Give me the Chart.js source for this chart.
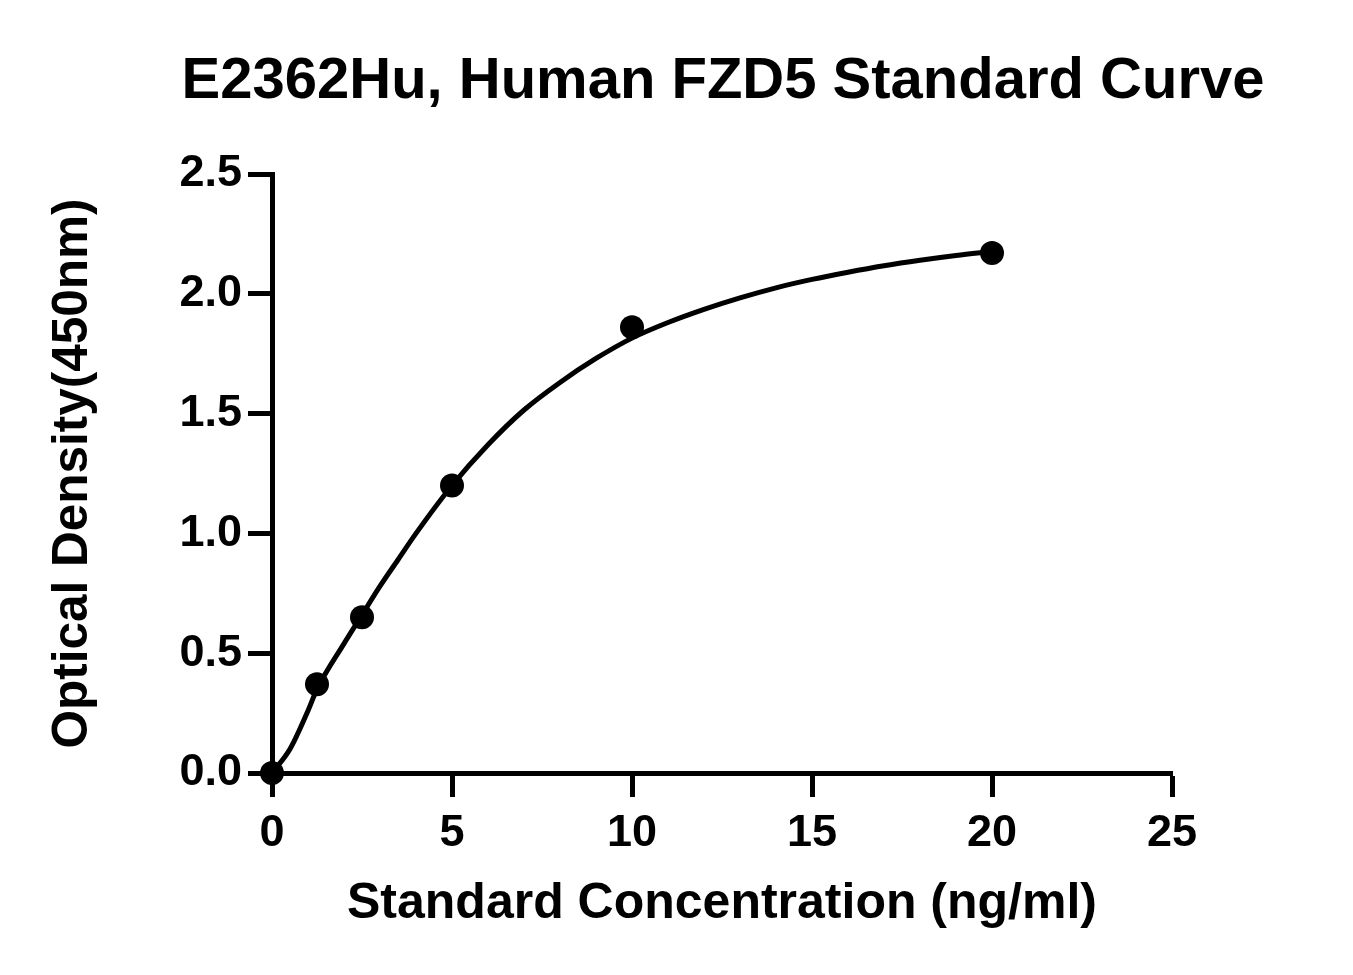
<!DOCTYPE html>
<html>
<head>
<meta charset="utf-8">
<script src="https://cdn.jsdelivr.net/npm/chart.js@4.4.0/dist/chart.umd.min.js"></script>
<style>
  html, body { margin: 0; padding: 0; background: #ffffff; }
  #wrap { width: 1353px; height: 975px; }
  canvas { display: block; }
</style>
</head>
<body>
<div id="wrap"><canvas id="c" width="1353" height="975" style="width:1353px;height:975px"></canvas></div>
<script>
// ---- data ----
const chartTitle = 'E2362Hu, Human FZD5 Standard Curve';
const xAxisTitle = 'Standard Concentration (ng/ml)';
const yAxisTitle = 'Optical Density(450nm)';

const concentrations = [0, 1.25, 2.5, 5, 10, 20];
const odValues = [0.0, 0.37, 0.65, 1.20, 1.86, 2.17];

// fitted standard curve
const curveX = [0, 0.5, 1, 1.25, 2, 2.5, 3, 3.5, 4, 5, 6, 7, 8, 9, 10, 11, 12, 13, 14, 15, 16, 17, 18, 19, 20];
const curveY = [0, 0.1, 0.26, 0.35, 0.54, 0.66, 0.78, 0.89, 1.00, 1.20, 1.37, 1.515, 1.63, 1.73, 1.815, 1.88, 1.935, 1.983, 2.025, 2.06, 2.09, 2.117, 2.14, 2.16, 2.177];

const xTickValues = [0, 5, 10, 15, 20, 25];
const yTickValues = [0.0, 0.5, 1.0, 1.5, 2.0, 2.5];

// ---- build chart ----
const FONT = "'Liberation Sans', Arial, Helvetica, sans-serif";
const pointData = concentrations.map((x, i) => ({ x: x, y: odValues[i] }));
const curveData = curveX.map((x, i) => ({ x: x, y: curveY[i] }));

// Title centred over the plot area (wider than the plot area, so drawn here)
const centredTitle = {
  id: 'centredTitle',
  afterDraw(chart) {
    const { ctx, chartArea } = chart;
    ctx.save();
    ctx.fillStyle = '#000000';
    ctx.font = "bold 58px " + FONT;
    ctx.textAlign = 'center';
    ctx.textBaseline = 'alphabetic';
    ctx.fillText(chartTitle, (chartArea.left + chartArea.right) / 2 + 1, 98);
    ctx.restore();
  }
};

new Chart(document.getElementById('c'), {
  type: 'scatter',
  data: {
    datasets: [
      {
        label: 'Curve',
        data: curveData,
        showLine: true,
        borderColor: '#000000',
        borderWidth: 5,
        pointRadius: 0,
        cubicInterpolationMode: 'monotone',
        fill: false,
        clip: false,
        order: 2
      },
      {
        label: 'Standard',
        data: pointData,
        showLine: false,
        backgroundColor: '#000000',
        borderColor: '#000000',
        borderWidth: 0,
        pointRadius: 12,
        pointHoverRadius: 12,
        clip: false,
        order: 1
      }
    ]
  },
  plugins: [centredTitle],
  options: {
    responsive: false,
    devicePixelRatio: 1,
    animation: false,
    events: [],
    layout: { padding: { left: 0, right: 181, top: 174, bottom: 0 } },
    plugins: {
      legend: { display: false },
      tooltip: { enabled: false },
      title: { display: false }
    },
    scales: {
      x: {
        type: 'linear',
        min: 0,
        max: 25,
        afterBuildTicks: (s) => { s.ticks = xTickValues.map(v => ({ value: v })); },
        afterFit: (s) => { s.height = 202; },
        border: { display: true, color: '#000000', width: 5 },
        grid: { display: true, drawOnChartArea: false, drawTicks: true, tickLength: 24, tickWidth: 5, tickColor: '#000000' },
        ticks: {
          color: '#000000',
          padding: 10,
          maxRotation: 0,
          font: { family: FONT, size: 45, weight: 'bold', lineHeight: 1.2 },
          callback: (v) => String(v)
        },
        title: {
          display: true,
          text: xAxisTitle,
          color: '#000000',
          font: { family: FONT, size: 50, weight: 'bold', lineHeight: 1.2 },
          padding: { top: 0, bottom: 41 }
        }
      },
      y: {
        type: 'linear',
        min: 0,
        max: 2.5,
        afterBuildTicks: (s) => { s.ticks = yTickValues.map(v => ({ value: v })); },
        afterFit: (s) => { s.width = 272; },
        border: { display: true, color: '#000000', width: 5 },
        grid: { display: true, drawOnChartArea: false, drawTicks: true, tickLength: 24, tickWidth: 5, tickColor: '#000000' },
        ticks: {
          color: '#000000',
          padding: 6,
          font: { family: FONT, size: 45, weight: 'bold', lineHeight: 1.2 },
          callback: (v) => Number(v).toFixed(1)
        },
        title: {
          display: true,
          text: yAxisTitle,
          color: '#000000',
          font: { family: FONT, size: 49.5, weight: 'bold', lineHeight: 1.2 },
          padding: { top: 44, bottom: 0 }
        }
      }
    }
  }
});
</script>
</body>
</html>
